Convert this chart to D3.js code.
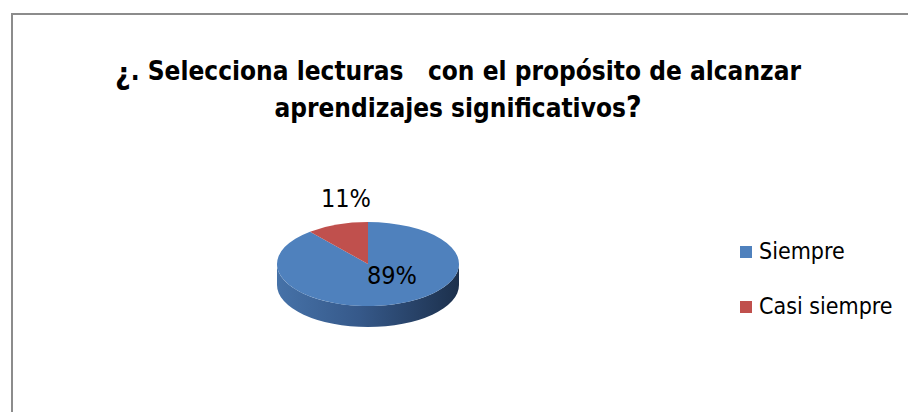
<!DOCTYPE html>
<html>
<head>
<meta charset="utf-8">
<script src="https://cdn.jsdelivr.net/npm/d3@7"></script>
<style>
  body { margin: 0; background: #fff; }
  text { font-family: "Liberation Sans Narrow", "DejaVu Sans Condensed", "Arial Narrow", sans-serif; }
</style>
</head>
<body>
<svg id="chart" width="908" height="412"></svg>
<script>
var categories = ["Siempre", "Casi siempre"];
var values = [89, 11];
var labels = ["89%", "11%"];
var colors = ["#4F81BD", "#C0504D"];

var svg = d3.select("#chart");

// frame (only top and left edges visible)
svg.append("path")
    .attr("d", "M12,420 L12,14 L920,14")
    .attr("fill", "none")
    .attr("stroke", "#8c8c8c")
    .attr("stroke-width", 2);

/* title */
var title = svg.append("text")
    .attr("text-anchor", "middle")
    .attr("font-weight", "bold")
    .attr("fill", "#000")
    .style("white-space", "pre");

var l1 = title.append("tspan")
    .attr("x", 458).attr("y", 80)
    .attr("font-size", 26);
l1.append("tspan").attr("font-size", 30).attr("dy", 4).text("\u00bf");
l1.append("tspan").attr("dy", -4).text(". Selecciona lecturas   con el propósito de alcanzar");
title.append("tspan")
    .attr("x", 458).attr("y", 117)
    .attr("font-size", 26)
    .text("aprendizajes significativos");
title.append("tspan").attr("font-size", 30).text("?");

/* 3d pie */
var cx = 368, cy = 264, rx = 91, ry = 42, depth = 21;

var pie = d3.pie().sort(null).value(function (d) { return d; });
var arcs = pie(values);

function pt(a, dy) {
    return [cx + rx * Math.sin(a), cy - ry * Math.cos(a) + (dy || 0)];
}

var defs = svg.append("defs");
var grad = defs.append("linearGradient")
    .attr("id", "side-grad")
    .attr("x1", "0%").attr("x2", "100%").attr("y1", "0%").attr("y2", "0%");
grad.append("stop").attr("offset", "0%").attr("stop-color", "#4672a8");
grad.append("stop").attr("offset", "45%").attr("stop-color", "#36598a");
grad.append("stop").attr("offset", "100%").attr("stop-color", "#1c304c");

// front side wall (blue slice covers the whole front half)
var sideStart = Math.PI / 2, sideEnd = 3 * Math.PI / 2;
var s0 = pt(sideStart), s1 = pt(sideEnd);
svg.append("path")
    .attr("d", "M" + s0 + " A" + rx + "," + ry + " 0 0 1 " + s1 +
        " L" + pt(sideEnd, depth) + " A" + rx + "," + ry + " 0 0 0 " + pt(sideStart, depth) + " Z")
    .attr("fill", "url(#side-grad)");

// top faces
svg.selectAll("path.slice")
    .data(arcs)
    .enter().append("path")
    .attr("class", "slice")
    .attr("d", function (d) {
        var large = (d.endAngle - d.startAngle) > Math.PI ? 1 : 0;
        return "M" + cx + "," + cy + " L" + pt(d.startAngle) +
            " A" + rx + "," + ry + " 0 " + large + " 1 " + pt(d.endAngle) + " Z";
    })
    .attr("fill", function (d, i) { return colors[i]; });

// data labels
var labelPos = [[392, 284], [346, 207]];
svg.selectAll("text.lbl")
    .data(arcs)
    .enter().append("text")
    .attr("class", "lbl")
    .attr("x", function (d, i) { return labelPos[i][0]; })
    .attr("y", function (d, i) { return labelPos[i][1]; })
    .attr("text-anchor", "middle")
    .attr("font-size", 25)
    .attr("fill", "#000")
    .text(function (d, i) { return labels[i]; });

/* legend */
var legend = svg.selectAll("g.legend")
    .data(categories)
    .enter().append("g")
    .attr("class", "legend")
    .attr("transform", function (d, i) { return "translate(740," + (246 + i * 55) + ")"; });

legend.append("rect")
    .attr("width", 12).attr("height", 12)
    .attr("fill", function (d, i) { return colors[i]; });

legend.append("text")
    .attr("x", 19).attr("y", 13)
    .attr("font-size", 23)
    .attr("fill", "#000")
    .text(function (d) { return d; });
</script>
</body>
</html>
